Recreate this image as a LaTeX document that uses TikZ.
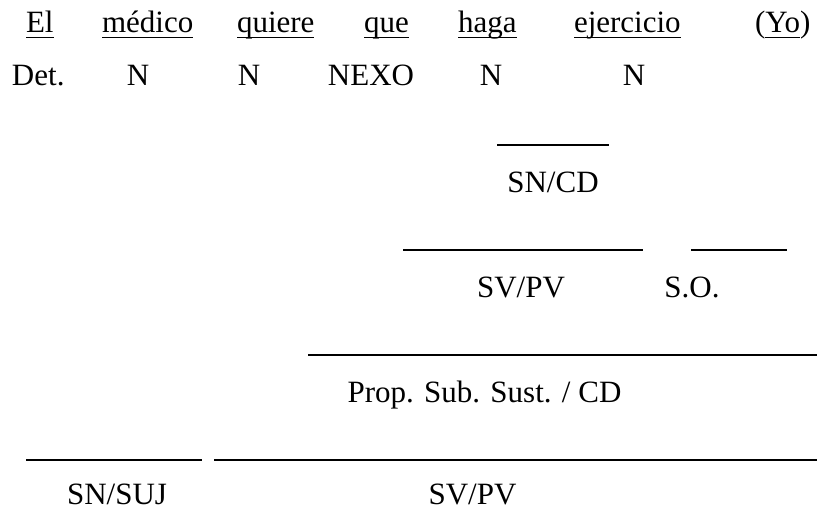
\documentclass[tikz,border=0pt]{standalone}
\usepackage{fontspec}
\setmainfont{Liberation Serif}
\begin{document}
\begin{tikzpicture}[x=1pt,y=-1pt,
  txt/.style={inner sep=0pt,outer sep=0pt,font=\fontsize{31}{37}\selectfont},
  word/.style={txt,anchor=base west},
  lab/.style={txt,anchor=base},
  ul/.style={line width=1.5pt},
  rule/.style={line width=1.2pt}]
\useasboundingbox[fill=white] (0,0) rectangle (817,512);
% row 1
\node[word] (w1) at (26,32) {El};
\node[word] (w2) at (102,32) {médico};
\node[word] (w3) at (237,32) {quiere};
\node[word] (w4) at (364,32) {que};
\node[word] (w5) at (458,32) {haga};
\node[word] (w6) at (574,32) {ejercicio};
\node[word] (lp) at (755,32) {(};
\node[word] (w7) at (lp.base east) {Yo};
\node[word] (rp) at (w7.base east) {)};
\foreach \n in {w1,w2,w3,w4,w5,w6,w7}
  \draw[ul] ([yshift=-5.5pt]\n.base west) -- ([yshift=-5.5pt]\n.base east);
% row 2
\node[word] (c1) at (12,85) {Det.};
\node[lab] (c2) at (138,85) {N};
\node[lab] (c3) at (249,85) {N};
\node[lab] (c4) at (371,85) {NEXO};
\node[lab] (c5) at (491,85) {N};
\node[lab] (c6) at (634,85) {N};
% lines and labels
\coordinate (a1) at (497,145); \coordinate (a2) at (609,145);
\draw[rule] (a1) -- (a2);
\node[lab] (snCD) at (553,192) {SN/CD};
\coordinate (b1) at (403,250); \coordinate (b2) at (643,250);
\coordinate (b3) at (691,250); \coordinate (b4) at (787,250);
\draw[rule] (b1) -- (b2);
\draw[rule] (b3) -- (b4);
\node[lab] (svpv1) at (521,297) {SV/PV};
\node[lab] (so) at (692,297) {S.O.};
\coordinate (d1) at (308,355); \coordinate (d2) at (817,355);
\draw[rule] (d1) -- (d2);
\node[lab] (prop) at (484.5,402) {Prop. Sub. Sust. / CD};
\coordinate (e1) at (26,460); \coordinate (e2) at (202,460);
\coordinate (e3) at (214,460); \coordinate (e4) at (817,460);
\draw[rule] (e1) -- (e2);
\draw[rule] (e3) -- (e4);
\node[lab] (snsuj) at (117,504) {SN/SUJ};
\node[lab] (svpv2) at (472.5,504) {SV/PV};
\end{tikzpicture}
\end{document}
